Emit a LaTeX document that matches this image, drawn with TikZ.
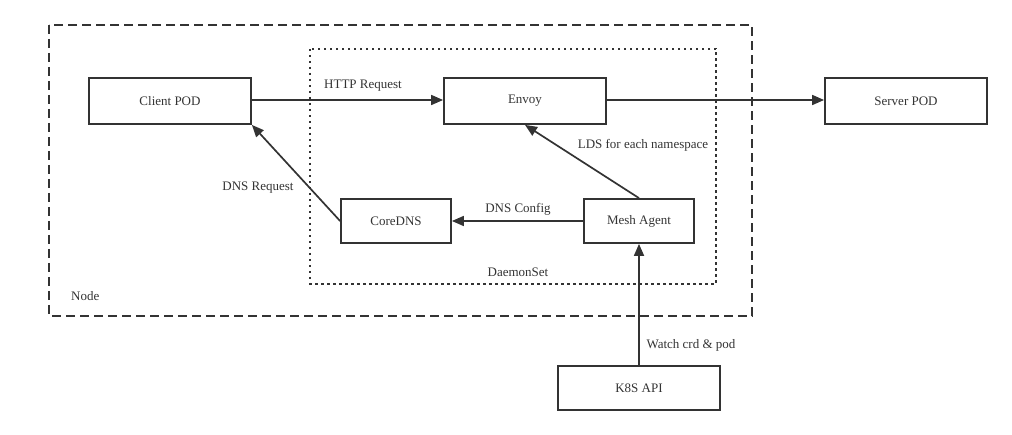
\documentclass[tikz,border=0pt]{standalone}
\usepackage{fontspec}
\setmainfont{Liberation Serif}
\usetikzlibrary{arrows.meta}
\definecolor{ink}{HTML}{333333}
\tikzset{
  box/.style={draw=ink, line width=1.8pt, rectangle, inner sep=0pt, text=ink, font=\fontsize{13}{15}\selectfont},
  lbl/.style={text=ink, inner sep=0pt, font=\fontsize{13}{15}\selectfont},
  conn/.style={draw=ink, line width=1.7pt, -{Triangle[length=12pt,width=10pt]}},
}
\begin{document}
\begin{tikzpicture}[x=1pt,y=-1pt]
\useasboundingbox (0,0) rectangle (1012,435);
% containers
\draw[ink, line width=1.8pt, dash pattern=on 9pt off 5pt] (49,25) rectangle (752,316);
\draw[ink, line width=1.8pt, dash pattern=on 2.5pt off 3.5pt] (310,49) rectangle (716,284);
% boxes
\node[box, minimum width=162pt, minimum height=46pt] (client) at (170,101) {Client POD};
\node[box, minimum width=162pt, minimum height=46pt] (envoy) at (525,101) {Envoy};
\node[box, minimum width=162pt, minimum height=46pt] (server) at (906,101) {Server POD};
\node[box, minimum width=110pt, minimum height=44pt] (coredns) at (396,221) {CoreDNS};
\node[box, minimum width=110pt, minimum height=44pt] (mesh) at (639,221) {Mesh Agent};
\node[box, minimum width=162pt, minimum height=44pt] (k8s) at (639,388) {K8S API};
% connectors
\draw[conn] (client.east |- 0,100) -- (envoy.west |- 0,100);
\draw[conn] (envoy.east |- 0,100) -- (server.west |- 0,100);
\draw[conn] (mesh.north) -- (envoy.south);
\draw[conn] (mesh.west) -- (coredns.east);
\draw[conn] (k8s.north) -- (mesh.south);
\draw[conn] (coredns.west) -- (client.south east);
% labels
\node[lbl] (lhttp) at (363,86) {HTTP Request};
\node[lbl] (ldnsreq) at (258,188) {DNS Request};
\node[lbl] (llds) at (643,145) {LDS for each namespace};
\node[lbl] (ldnscfg) at (518,209) {DNS Config};
\node[lbl] (lds) at (518,272) {DaemonSet};
\node[lbl] (lwatch) at (691,345) {Watch crd \& pod};
\node[lbl, anchor=west] (lnode) at (71,296) {Node};
\end{tikzpicture}
\end{document}
